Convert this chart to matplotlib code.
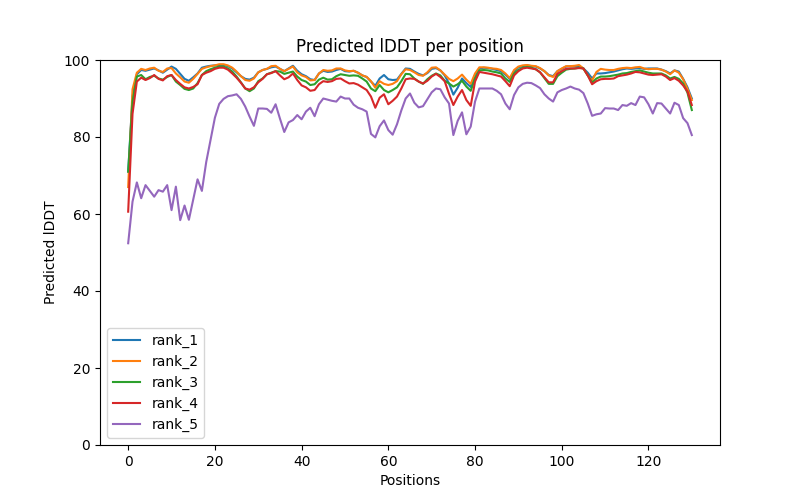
import numpy as np
import matplotlib
matplotlib.use('Agg')
import matplotlib.pyplot as plt

# per-position predicted lDDT for the five ranked models
rank_1 = [71.0, 90.5, 96.3, 97.4, 97.2, 97.5, 97.8, 97.3, 96.7, 97.5,
          98.3, 97.7, 96.4, 95.1, 94.6, 95.5, 96.5, 98.0, 98.3, 98.5,
          98.6, 98.7, 98.7, 98.4, 97.8, 96.8, 95.8, 95.1, 94.9, 95.4,
          96.8, 97.4, 97.7, 98.1, 98.3, 97.7, 97.1, 97.8, 98.5, 97.2,
          96.3, 95.8, 95.0, 94.8, 96.5, 97.2, 96.9, 97.0, 97.4, 97.7,
          97.1, 97.0, 97.2, 96.7, 96.0, 95.6, 94.4, 93.3, 95.2, 96.1,
          95.0, 94.8, 94.9, 96.4, 97.8, 97.7, 97.0, 96.4, 96.0, 96.6,
          97.7, 97.9, 97.3, 96.0, 93.9, 91.0, 92.8, 95.2, 94.0, 93.0,
          96.1, 97.8, 98.0, 97.9, 97.7, 97.4, 97.1, 96.2, 95.1, 97.0,
          98.1, 98.4, 98.6, 98.4, 98.3, 97.8, 97.1, 96.1, 95.8, 97.1,
          97.7, 98.3, 98.4, 98.4, 98.4, 97.8, 96.7, 95.2, 96.5, 96.5,
          96.6, 96.8, 97.0, 97.3, 97.6, 97.8, 97.7, 97.8, 97.9, 97.7,
          97.8, 97.8, 97.8, 97.5, 97.1, 96.5, 97.3, 97.0, 95.1, 92.9,
          90.0]
rank_2 = [67.0, 92.4, 96.7, 97.7, 97.4, 97.8, 98.0, 97.2, 96.9, 97.8,
          97.9, 96.5, 95.5, 94.4, 94.1, 95.1, 96.4, 97.7, 98.1, 98.4,
          98.6, 98.9, 98.9, 98.6, 98.0, 97.0, 95.8, 94.8, 94.6, 95.2,
          96.8, 97.4, 97.7, 98.4, 98.5, 97.7, 97.1, 97.7, 98.3, 96.8,
          96.0, 95.6, 94.7, 94.8, 96.5, 97.4, 97.2, 97.3, 97.8, 97.8,
          97.3, 97.1, 97.2, 96.7, 96.0, 95.6, 94.5, 92.8, 94.5, 93.8,
          93.5, 93.8, 94.5, 96.3, 97.6, 97.4, 96.8, 96.1, 95.9, 96.8,
          98.0, 98.1, 97.3, 96.2, 95.1, 94.5, 95.2, 96.2, 94.9, 93.8,
          96.5, 98.1, 98.1, 98.0, 97.8, 97.7, 97.4, 96.5, 95.3, 97.4,
          98.3, 98.6, 98.7, 98.5, 98.4, 97.9, 97.1, 96.0, 95.6, 97.1,
          97.8, 98.4, 98.4, 98.5, 98.7, 97.8, 96.0, 94.7, 96.9, 97.7,
          97.5, 97.4, 97.4, 97.7, 97.9, 98.0, 97.9, 98.1, 98.2, 97.8,
          97.6, 97.7, 97.7, 97.5, 97.0, 96.3, 97.3, 96.7, 95.0, 92.5,
          89.6]
rank_3 = [71.0, 89.2, 95.7, 96.1, 95.0, 95.6, 95.9, 95.2, 94.9, 95.6,
          96.1, 94.4, 93.5, 92.5, 92.2, 92.6, 94.0, 96.1, 97.1, 97.6,
          98.0, 98.3, 98.3, 97.8, 97.0, 95.7, 94.2, 92.6, 91.9, 92.6,
          94.5, 95.2, 96.3, 96.7, 97.1, 97.0, 96.4, 96.7, 97.0, 95.7,
          94.8, 94.4, 93.5, 93.7, 94.9, 95.4, 94.9, 95.0, 95.8, 96.3,
          96.1, 95.9, 96.0, 95.9, 95.2, 94.4, 92.6, 91.9, 93.5, 92.2,
          91.6, 92.2, 92.9, 94.5, 96.4, 96.3, 95.2, 94.4, 93.8, 95.0,
          95.9, 96.5, 96.0, 94.6, 93.9, 93.1, 93.7, 94.6, 93.1, 92.0,
          95.2, 97.3, 97.4, 97.3, 97.0, 96.8, 96.5, 95.2, 94.3, 96.5,
          97.4, 98.0, 98.2, 98.0, 97.6, 96.8, 95.3, 93.8, 93.8, 95.8,
          96.7, 97.5, 97.7, 97.8, 98.0, 97.8, 96.0, 94.1, 95.2, 95.7,
          95.7, 95.8, 96.0, 96.2, 96.5, 96.6, 96.9, 97.1, 97.3, 97.0,
          96.7, 96.5, 96.5, 96.5, 96.0, 95.2, 95.6, 95.1, 93.9, 91.5,
          87.0]
rank_4 = [60.6, 86.0, 94.4, 95.4, 94.8, 95.3, 96.1, 95.1, 94.7, 95.8,
          96.1, 94.8, 93.8, 92.9, 92.6, 93.0, 93.7, 96.1, 96.7, 97.1,
          97.7, 98.0, 98.0, 97.5, 96.5, 95.4, 94.1, 92.6, 92.3, 92.9,
          94.2, 95.1, 96.3, 96.6, 97.1, 96.0, 95.0, 95.5, 96.5, 94.8,
          93.4, 92.9, 92.0, 92.2, 93.7, 94.5, 94.3, 94.5, 95.1, 95.2,
          94.5, 93.9, 94.0, 93.6, 92.9, 92.2, 90.5, 87.6, 90.2, 91.1,
          88.5, 89.4, 90.5, 92.6, 95.0, 95.2, 95.1, 94.4, 93.9, 94.6,
          95.7, 96.4, 95.6, 94.5, 91.2, 88.3, 90.5, 92.2, 89.6, 88.1,
          94.4, 96.9, 96.7, 96.5, 96.3, 96.0, 95.7, 94.5, 93.2, 96.0,
          97.1, 97.8, 98.0, 97.8, 97.6, 96.8, 95.5, 94.2, 94.2, 96.4,
          97.1, 97.7, 97.8, 97.8, 97.9, 97.8, 96.0, 93.7, 94.5, 95.0,
          95.1, 95.1, 95.2, 95.8, 96.0, 96.2, 96.5, 96.9, 96.8, 96.5,
          96.2, 96.1, 96.2, 96.3, 95.7, 94.8, 95.3, 94.6, 93.4, 91.8,
          88.3]
rank_5 = [52.4, 63.2, 68.2, 64.1, 67.5, 66.0, 64.5, 66.2, 65.8, 67.5,
          61.0, 67.1, 58.4, 62.2, 58.5, 63.8, 69.0, 66.0, 73.5, 79.3,
          85.0, 88.6, 89.9, 90.6, 90.8, 91.1, 89.9, 87.9, 85.3, 82.9,
          87.4, 87.4, 87.3, 86.3, 88.5, 84.8, 81.3, 83.8, 84.4, 85.7,
          84.6, 86.6, 87.6, 85.4, 88.5, 90.0, 89.7, 89.4, 89.2, 90.5,
          90.0, 90.0, 88.4, 87.6, 87.2, 86.6, 80.8, 79.9, 82.8, 84.3,
          81.8, 80.6, 83.3, 86.9, 90.0, 91.3, 88.9, 87.7, 88.0, 89.8,
          91.6, 92.6, 92.4, 90.3, 88.7, 80.5, 84.2, 86.4, 80.7, 82.7,
          89.2, 92.6, 92.6, 92.6, 92.6, 92.0, 91.1, 88.7, 87.2, 90.9,
          92.9, 93.8, 94.1, 94.0, 93.4, 92.7, 91.1, 90.0, 89.2, 91.6,
          92.2, 92.6, 93.1, 92.6, 92.3, 91.4, 88.7, 85.5, 85.9, 86.1,
          87.5, 87.4, 87.4, 87.0, 88.3, 88.1, 88.8, 88.3, 90.5, 90.3,
          88.5, 86.1, 88.8, 88.7, 87.4, 86.1, 88.9, 88.3, 84.9, 83.6,
          80.5]

ranks = {'rank_1': rank_1, 'rank_2': rank_2, 'rank_3': rank_3,
         'rank_4': rank_4, 'rank_5': rank_5}

plt.figure(figsize=(8, 5), dpi=100)
for name, plddt in ranks.items():
    plt.plot(np.arange(len(plddt)), plddt, label=name)

plt.title('Predicted lDDT per position')
plt.xlabel('Positions')
plt.ylabel('Predicted lDDT')
plt.ylim(0, 100)
plt.legend(loc='lower left')
plt.savefig('out.png', dpi=100)
